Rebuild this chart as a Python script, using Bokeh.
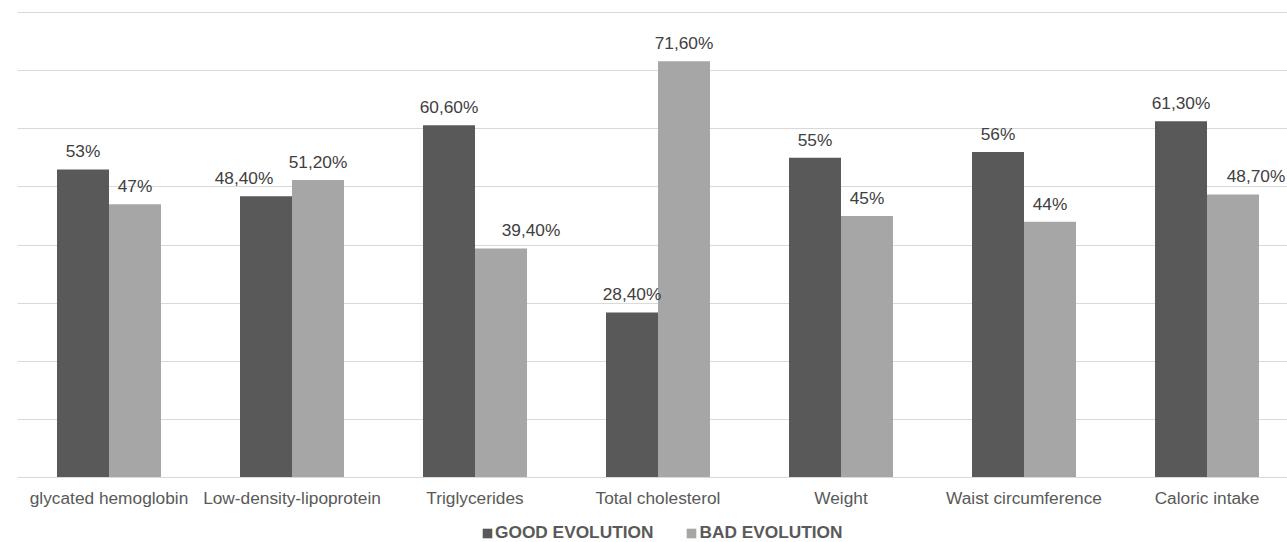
from bokeh.plotting import figure
from bokeh.models import ColumnDataSource, Range1d, FixedTicker, Legend, LegendItem
from bokeh.embed import file_html
from bokeh.resources import INLINE
from bokeh.core.properties import value

categories = ["glycated hemoglobin", "Low-density-lipoprotein", "Triglycerides",
              "Total cholesterol", "Weight", "Waist circumference", "Caloric intake"]
good = [53.0, 48.4, 60.6, 28.4, 55.0, 56.0, 61.3]
bad = [47.0, 51.2, 39.4, 71.6, 45.0, 44.0, 48.7]
good_labels = ["53%", "48,40%", "60,60%", "28,40%", "55%", "56%", "61,30%"]
bad_labels = ["47%", "51,20%", "39,40%", "71,60%", "45%", "44%", "48,70%"]
series_names = ["GOOD EVOLUTION", "BAD EVOLUTION"]

# horizontal nudges (px) of a few value labels, as placed in the original
good_label_dx = [0, -22, 0, 0, 0, 0, 0]
bad_label_dx = [0, 0, 30, 0, 0, 0, 23]

DARK = "#595959"
LIGHT = "#a6a6a6"
FONT = "Liberation Sans"
FS = "17.3px"

FW = 1270
cat_px = 183.0
bw = 52.0 / cat_px
px_per_unit = 465.0 / 80.0

centers = [i + 0.5 for i in range(len(categories))]
src_g = ColumnDataSource(dict(x=[c - bw / 2 for c in centers], top=good, lab=good_labels,
                              dx=good_label_dx))
src_b = ColumnDataSource(dict(x=[c + bw / 2 for c in centers], top=bad, lab=bad_labels,
                              dx=bad_label_dx))

p = figure(width=1287, height=542, output_backend="svg", toolbar_location=None,
           x_range=Range1d(0, FW / cat_px),
           y_range=Range1d(-65.0 / px_per_unit, 80 + 1.0 / px_per_unit),
           min_border_left=17, min_border_right=0, min_border_top=11, min_border_bottom=0)
p.outline_line_color = None
p.background_fill_color = "white"

rg = p.vbar(x="x", top="top", width=bw, source=src_g, fill_color=DARK, line_color=None)
rb = p.vbar(x="x", top="top", width=bw, source=src_b, fill_color=LIGHT, line_color=None)

for src in (src_g, src_b):
    p.text(x="x", y="top", text="lab", source=src, text_align="center",
           text_baseline="bottom", x_offset="dx", y_offset=-8, text_font=value(FONT),
           text_font_size=FS, text_color="#404040")

p.yaxis.visible = False
p.ygrid.ticker = FixedTicker(ticks=list(range(0, 90, 10)))
p.ygrid.grid_line_color = "#d9d9d9"
p.ygrid.grid_line_width = 1
p.xgrid.visible = False

xa = p.xaxis[0]
xa.fixed_location = 0
xa.ticker = FixedTicker(ticks=centers)
xa.major_label_overrides = {c: name for c, name in zip(centers, categories)}
xa.major_tick_line_color = None
xa.minor_tick_line_color = None
xa.axis_line_color = "#d9d9d9"
xa.major_label_standoff = 4
xa.major_label_text_font = FONT
xa.major_label_text_font_size = FS
xa.major_label_text_color = "#595959"

legend = Legend(items=[LegendItem(label=series_names[0], renderers=[rg]),
                       LegendItem(label=series_names[1], renderers=[rb])],
                orientation="horizontal", location=(464, -1),
                label_text_font=FONT, label_text_font_size=FS,
                label_text_font_style="bold", label_text_color="#595959",
                glyph_width=12, glyph_height=12, label_standoff=2, spacing=32,
                border_line_color=None, background_fill_alpha=0, padding=0, margin=0)
p.add_layout(legend, "center")

open("out.html", "w").write(file_html(p, INLINE))
